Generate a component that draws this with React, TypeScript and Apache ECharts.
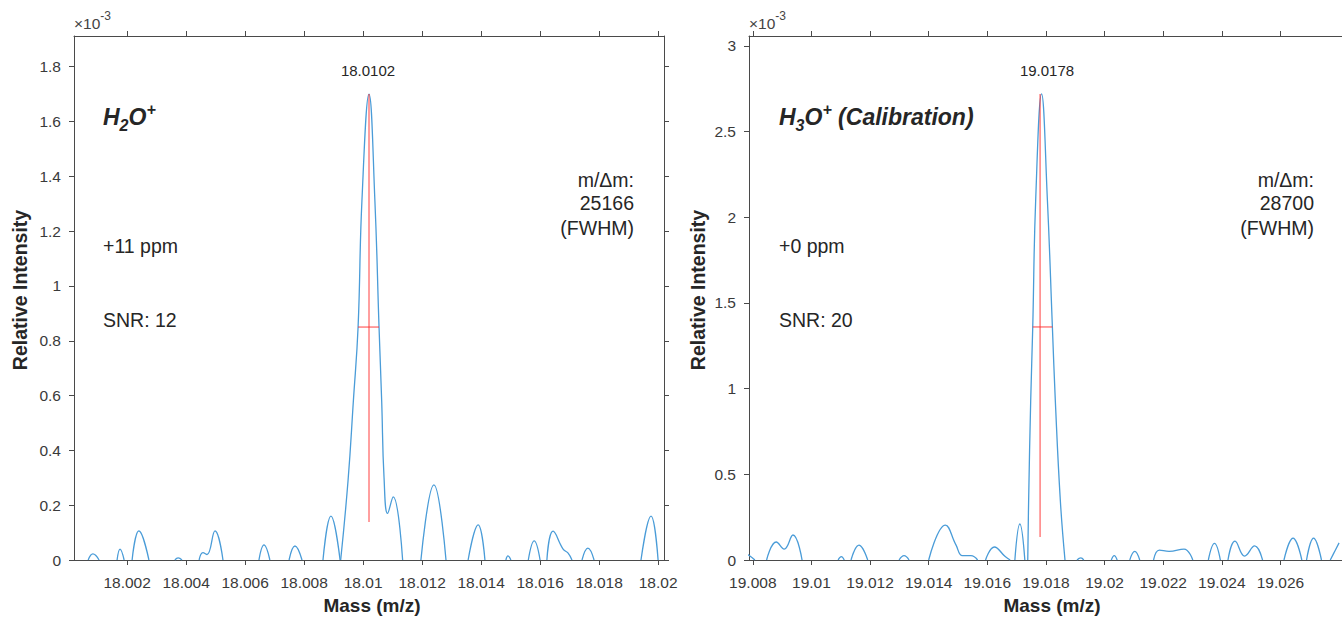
import React, { useEffect, useRef } from "react";
import * as echarts from "echarts";

// ---- H2O+ panel (intensity in units of 1e-3), null separates curve segments ----
const h2oMass: (number | null)[] = [
  18.00068, 18.00084, 18.00105, null,
  18.00166, 18.00176, 18.0019, null,
  18.00217, 18.0024, 18.00274, null,
  18.00362, 18.00373, 18.00386, null,
  18.00444, 18.00457, 18.00471, 18.00498, 18.00525, null,
  18.00647, 18.00664, 18.00684, null,
  18.00749, 18.00769, 18.00793, null,
  18.00864, 18.00891, 18.00922, null,
  18.00924, 18.00949, 18.00967, 18.00983, 18.00996, 18.0102, 18.0104, 18.01054, 18.01063, 18.01071, 18.01083, 18.01102, 18.01134, null,
  18.01196, 18.0124, 18.01281, null,
  18.01356, 18.0139, 18.01413, null,
  18.01484, 18.01491, 18.01501, null,
  18.0156, 18.0158, 18.016, null,
  18.01623, 18.01644, 18.01678, 18.01695, 18.01708, null,
  18.01742, 18.01762, 18.01783, null,
  18.01942, 18.01976, 18.02,
];
const h2oIntensity: (number | null)[] = [
  0, 0.022, 0, null,
  0, 0.04, 0, null,
  0, 0.106, 0, null,
  0, 0.008, 0, null,
  0, 0.027, 0.02, 0.106, 0, null,
  0, 0.055, 0, null,
  0, 0.051, 0, null,
  0, 0.16, 0, null,
  0, 0.29, 0.58, 0.85, 1.31, 1.7, 1.31, 0.85, 0.58, 0.3, 0.17, 0.23, 0, null,
  0, 0.274, 0, null,
  0, 0.128, 0, null,
  0, 0.015, 0, null,
  0, 0.07, 0, null,
  0, 0.105, 0.04, 0.025, 0, null,
  0, 0.043, 0, null,
  0, 0.16, 0,
];
const h2oMassTicks = [18.002, 18.004, 18.006, 18.008, 18.01, 18.012, 18.014, 18.016, 18.018, 18.02];
const h2oIntensityTicks = [0, 0.2, 0.4, 0.6, 0.8, 1, 1.2, 1.4, 1.6, 1.8];
const h2oMassRange = [18.0002, 18.0202];
const h2oIntensityRange = [0, 1.912];
const h2oPeakMass = 18.0102;
const h2oPeakTop = 1.7;
const h2oStemBottom = 0.139;
const h2oHalfMax = 0.85;
const h2oFwhmEdges = [18.00983, 18.01054];

// ---- H3O+ panel ----
const h3oMass: (number | null)[] = [
  19.0078, 19.00797, 19.00807, null,
  19.00847, 19.0088, 19.00907, 19.00937, 19.00968, null,
  19.01091, 19.01102, 19.01112, null,
  19.01135, 19.01162, 19.01192, null,
  19.01299, 19.01316, 19.01333, null,
  19.014, 19.01457, 19.01493, 19.01515, 19.01544, 19.01567, null,
  19.01594, 19.01624, 19.01661, 19.01678, null,
  19.01694, 19.01711, 19.01728, null,
  19.01738, 19.01741, 19.01748, 19.01755, 19.01765, 19.01785, 19.01805, 19.01822, 19.01832, 19.01849, 19.01865, null,
  19.01906, 19.01919, 19.01929, null,
  19.02023, 19.02033, 19.02043, null,
  19.02086, 19.02103, 19.0212, null,
  19.02167, 19.02187, 19.0222, 19.02271, 19.02301, null,
  19.02354, 19.02375, 19.02395, null,
  19.02421, 19.02445, 19.02478, 19.02512, 19.02539, null,
  19.02612, 19.02643, 19.02673, null,
  19.02689, 19.02713, 19.0274, null,
  19.0277, 19.02782, 19.028,
];
const h3oIntensity: (number | null)[] = [
  0.035, 0.015, 0, null,
  0, 0.105, 0.064, 0.146, 0, null,
  0, 0.02, 0, null,
  0, 0.087, 0, null,
  0, 0.025, 0, null,
  0, 0.204, 0.088, 0.025, 0.025, 0, null,
  0, 0.076, 0.02, 0, null,
  0, 0.21, 0, null,
  0, 0.35, 0.93, 1.36, 2.1, 2.72, 2.1, 1.36, 0.93, 0.35, 0, null,
  0, 0.012, 0, null,
  0, 0.025, 0, null,
  0, 0.05, 0, null,
  0, 0.058, 0.05, 0.064, 0, null,
  0, 0.097, 0, null,
  0, 0.11, 0.023, 0.082, 0, null,
  0, 0.128, 0, null,
  0, 0.128, 0, null,
  0, 0.04, 0.1,
];
const h3oMassTicks = [19.008, 19.01, 19.012, 19.014, 19.016, 19.018, 19.02, 19.022, 19.024, 19.026];
const h3oIntensityTicks = [0, 0.5, 1, 1.5, 2, 2.5, 3];
const h3oMassRange = [19.00787, 19.0281];
const h3oIntensityRange = [0, 3.058];
const h3oPeakMass = 19.0178;
const h3oPeakTop = 2.72;
const h3oStemBottom = 0.134;
const h3oHalfMax = 1.36;
const h3oFwhmEdges = [19.01755, 19.01822];

const FONT = '"Liberation Sans", Arial, Helvetica, sans-serif';
const AXIS = "#4a4a4a";
const TEXT = "#262626";
const TICK_TEXT = "#3a3a3a";
const BLUE = "#4a9cd8";
const RED = "rgba(255,40,40,0.75)";

const fmt = (v: number) => String(parseFloat(v.toFixed(6)));

function segments(mass: (number | null)[], inten: (number | null)[]) {
  const out: number[][][] = [];
  let cur: number[][] = [];
  mass.forEach((m, i) => {
    const y = inten[i];
    if (m === null || y === null) {
      if (cur.length) out.push(cur);
      cur = [];
    } else cur.push([m, y]);
  });
  if (cur.length) out.push(cur);
  return out;
}

function xAxis(grid: number, position: string, range: number[], ticks: number[], labels: boolean) {
  return {
    type: "value",
    gridIndex: grid,
    position,
    min: range[0],
    max: range[1],
    axisLine: { show: true, onZero: false, lineStyle: { color: AXIS, width: 1 } },
    axisTick: { show: true, inside: false, length: 5, customValues: ticks, lineStyle: { color: AXIS } },
    axisLabel: {
      show: labels,
      customValues: ticks,
      formatter: fmt,
      color: TICK_TEXT,
      fontSize: 15.5,
      fontFamily: FONT,
      margin: 14,
    },
    splitLine: { show: false },
  };
}

function yAxis(grid: number, position: string, range: number[], ticks: number[], labels: boolean) {
  return {
    type: "value",
    gridIndex: grid,
    position,
    min: range[0],
    max: range[1],
    axisLine: { show: true, onZero: false, lineStyle: { color: AXIS, width: 1 } },
    axisTick: { show: true, inside: false, length: 5, customValues: ticks, lineStyle: { color: AXIS } },
    axisLabel: {
      show: labels,
      customValues: ticks,
      formatter: fmt,
      color: TICK_TEXT,
      fontSize: 15.5,
      fontFamily: FONT,
      margin: 13,
    },
    splitLine: { show: false },
  };
}

function curveSeries(mass: (number | null)[], inten: (number | null)[], xi: number, yi: number) {
  return segments(mass, inten).map((seg) => ({
    type: "line",
    xAxisIndex: xi,
    yAxisIndex: yi,
    data: seg,
    smooth: 0.45,
    symbol: "none",
    silent: true,
    clip: true,
    lineStyle: { color: BLUE, width: 1.3 },
    z: 2,
  }));
}

function markerSeries(peak: number, top: number, bottom: number, half: number, edges: number[], xi: number, yi: number) {
  const base = {
    type: "line",
    xAxisIndex: xi,
    yAxisIndex: yi,
    symbol: "none",
    silent: true,
    lineStyle: { color: RED, width: 1.2 },
    z: 3,
  };
  return [
    { ...base, data: [[peak, bottom], [peak, top]] },
    { ...base, data: [[edges[0], half], [edges[1], half]] },
  ];
}

function txt(x: number, y: number, text: string, extra: any = {}, rotation = 0) {
  return {
    type: "text",
    x,
    y,
    rotation,
    silent: true,
    style: {
      text,
      fill: TEXT,
      fontFamily: FONT,
      fontSize: 19.5,
      align: "left",
      verticalAlign: "middle",
      ...extra,
    },
  };
}

function formula(x: number, y: number, digit: string, tail: string) {
  const main = { fontSize: 23, fontWeight: "bold", fontStyle: "italic", fontFamily: FONT, fill: TEXT, lineHeight: 32, verticalAlign: "middle" };
  return {
    type: "text",
    x,
    y,
    silent: true,
    style: {
      text: `{m|H}{sub|${digit}}{m|O}{sup|+}` + (tail ? `{m|${tail}}` : ""),
      align: "left",
      verticalAlign: "middle",
      fontFamily: FONT,
      rich: {
        m: main,
        sub: { ...main, fontSize: 16, lineHeight: 11, verticalAlign: "bottom" },
        sup: { ...main, fontSize: 16, lineHeight: 22, verticalAlign: "top" },
      },
    },
  };
}

function exponent(x: number, y: number) {
  const base = { fontFamily: FONT, fill: "#444", fontSize: 15.5, lineHeight: 26, verticalAlign: "middle" };
  return {
    type: "text",
    x,
    y,
    silent: true,
    style: {
      text: "{a|×10}{b|-3}",
      align: "left",
      verticalAlign: "middle",
      rich: { a: base, b: { ...base, fontSize: 12, lineHeight: 15, verticalAlign: "top" } },
    },
  };
}

export default function App() {
  const ref = useRef<HTMLDivElement>(null);
  useEffect(() => {
    if (!ref.current) return;
    const chart = echarts.init(ref.current, undefined, { renderer: "svg" });
    const option: any = {
      animation: false,
      backgroundColor: "#ffffff",
      grid: [
        { left: 74, top: 36, width: 590, height: 524 },
        { left: 749, top: 36, width: 606, height: 524 },
      ],
      xAxis: [
        xAxis(0, "bottom", h2oMassRange, h2oMassTicks, true),
        xAxis(0, "top", h2oMassRange, h2oMassTicks, false),
        xAxis(1, "bottom", h3oMassRange, h3oMassTicks, true),
        xAxis(1, "top", h3oMassRange, h3oMassTicks, false),
      ],
      yAxis: [
        yAxis(0, "left", h2oIntensityRange, h2oIntensityTicks, true),
        yAxis(0, "right", h2oIntensityRange, h2oIntensityTicks, false),
        yAxis(1, "left", h3oIntensityRange, h3oIntensityTicks, true),
        yAxis(1, "right", h3oIntensityRange, h3oIntensityTicks, false),
      ],
      series: [
        ...curveSeries(h2oMass, h2oIntensity, 0, 0),
        ...markerSeries(h2oPeakMass, h2oPeakTop, h2oStemBottom, h2oHalfMax, h2oFwhmEdges, 0, 0),
        ...curveSeries(h3oMass, h3oIntensity, 2, 2),
        ...markerSeries(h3oPeakMass, h3oPeakTop, h3oStemBottom, h3oHalfMax, h3oFwhmEdges, 2, 2),
      ],
      graphic: [
        exponent(74, 23),
        exponent(749, 23),
        txt(368, 70, "18.0102", { align: "center", fontSize: 15 }),
        txt(1047, 70, "19.0178", { align: "center", fontSize: 15 }),
        formula(103, 117, "2", ""),
        formula(779, 117, "3", " (Calibration)"),
        txt(103, 246, "+11 ppm"),
        txt(103, 320, "SNR: 12"),
        txt(779, 246, "+0 ppm"),
        txt(779, 320, "SNR: 20"),
        txt(634, 180, "m/Δm:", { align: "right" }),
        txt(634, 203, "25166", { align: "right" }),
        txt(634, 228, "(FWHM)", { align: "right" }),
        txt(1314, 180, "m/Δm:", { align: "right" }),
        txt(1314, 203, "28700", { align: "right" }),
        txt(1314, 228, "(FWHM)", { align: "right" }),
        txt(20, 290, "Relative Intensity", { align: "center", fontWeight: "bold", fontSize: 19.5 }, Math.PI / 2),
        txt(698, 290, "Relative Intensity", { align: "center", fontWeight: "bold", fontSize: 19.5 }, Math.PI / 2),
        txt(372, 605, "Mass (m/z)", { align: "center", fontWeight: "bold", fontSize: 19 }),
        txt(1052, 605, "Mass (m/z)", { align: "center", fontWeight: "bold", fontSize: 19 }),
      ],
    };
    chart.setOption(option);
    return () => chart.dispose();
  }, []);
  return (
    <div
      ref={ref}
      style={{ position: "fixed", left: 0, top: 0, width: 1342, height: 618, background: "#fff" }}
    />
  );
}
